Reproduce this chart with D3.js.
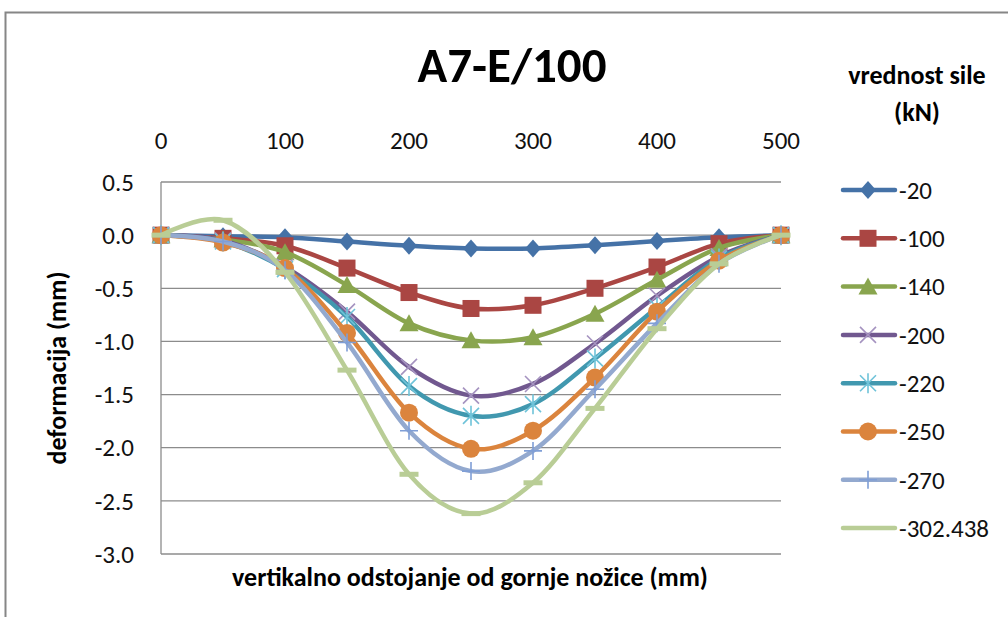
<!DOCTYPE html>
<html>
<head>
<meta charset="utf-8">
<script src="https://cdn.jsdelivr.net/npm/d3@7"></script>
<style>
  body { margin: 0; background: #fff; }
  svg { display: block; font-family: Carlito, Calibri, Lato, sans-serif; }
</style>
</head>
<body>
<div id="chart"></div>
<script>
// data
var positions = [0, 50, 100, 150, 200, 250, 300, 350, 400, 450, 500];
var forces = ["-20", "-100", "-140", "-200", "-220", "-250", "-270", "-302.438"];
var s20  = [0, -0.01, -0.02, -0.06, -0.10, -0.125, -0.125, -0.095, -0.055, -0.02, 0];
var s100 = [0, -0.03, -0.10, -0.31, -0.54, -0.69, -0.66, -0.50, -0.30, -0.08, 0];
var s140 = [0, -0.04, -0.16, -0.47, -0.83, -0.99, -0.96, -0.74, -0.42, -0.12, 0];
var s200 = [0, -0.05, -0.30, -0.72, -1.24, -1.51, -1.40, -1.02, -0.57, -0.20, 0];
var s220 = [0, -0.06, -0.32, -0.77, -1.42, -1.70, -1.59, -1.16, -0.68, -0.22, 0];
var s250 = [0, -0.07, -0.31, -0.92, -1.67, -2.01, -1.84, -1.34, -0.72, -0.24, 0];
var s270 = [0, -0.06, -0.33, -1.01, -1.84, -2.22, -2.03, -1.45, -0.83, -0.27, 0];
var s302 = [0, 0.14, -0.35, -1.27, -2.25, -2.62, -2.33, -1.63, -0.88, -0.27, 0];
var seriesValues = [s20, s100, s140, s200, s220, s250, s270, s302];
var xTicks = [0, 100, 200, 300, 400, 500];
var yTicks = [0.5, 0.0, -0.5, -1.0, -1.5, -2.0, -2.5, -3.0];

var colors = ["#4572A7", "#AA4643", "#89A54E", "#71588F", "#4198AF", "#DB843D", "#93A9CF", "#B9CD96"];
var markerColors = ["#4572A7", "#AA4643", "#89A54E", "#A593C0", "#6FC3D9", "#DB843D", "#7F9ED6", "#B9CD96"];
var markers = ["diamond", "square", "triangle", "x", "star", "circle", "plus", "dash"];

var width = 1008, height = 617;
var svg = d3.select("#chart").append("svg")
    .attr("width", width)
    .attr("height", height);

var fmt = d3.formatLocale({decimal: ".", thousands: ",", grouping: [3], currency: ["", ""], minus: "-"}).format(".1f");

// outer chart border (cropped at right/bottom)
svg.append("rect")
    .attr("x", 5.5).attr("y", 12.5)
    .attr("width", 1020).attr("height", 640)
    .attr("fill", "none")
    .attr("stroke", "#868686")
    .attr("stroke-width", 2);

var x = d3.scaleLinear().domain([0, 500]).range([161, 781]);
var y = d3.scaleLinear().domain([0.5, -3.0]).range([182, 554]);

// gridlines
svg.append("g").selectAll("line")
    .data(yTicks)
    .enter().append("line")
    .attr("x1", x(0)).attr("x2", x(500))
    .attr("y1", function(d) { return y(d); })
    .attr("y2", function(d) { return y(d); })
    .attr("stroke", "#8c8c8c")
    .attr("stroke-width", 1.3);

// left axis line
svg.append("line")
    .attr("x1", x(0)).attr("x2", x(0))
    .attr("y1", y(0.5)).attr("y2", y(-3.0))
    .attr("stroke", "#8c8c8c")
    .attr("stroke-width", 1.3);

// y tick labels
svg.append("g").selectAll("text")
    .data(yTicks)
    .enter().append("text")
    .attr("x", 134)
    .attr("y", function(d) { return y(d); })
    .attr("dy", "0.35em")
    .attr("text-anchor", "end")
    .attr("font-size", 25)
    .attr("fill", "#111")
    .text(function(d) { return fmt(d); });

// x tick labels (on top)
svg.append("g").selectAll("text")
    .data(xTicks)
    .enter().append("text")
    .attr("x", function(d) { return x(d); })
    .attr("y", 140)
    .attr("dy", "0.35em")
    .attr("text-anchor", "middle")
    .attr("font-size", 25)
    .attr("fill", "#111")
    .text(function(d) { return d; });

// titles
svg.append("text")
    .attr("x", 512).attr("y", 82)
    .attr("text-anchor", "middle")
    .attr("font-size", 49)
    .attr("font-weight", "bold")
    .text("A7-E/100");

svg.append("text")
    .attr("x", 470).attr("y", 586)
    .attr("text-anchor", "middle")
    .attr("font-size", 26)
    .attr("font-weight", "bold")
    .text("vertikalno odstojanje  od gornje nožice (mm)");

svg.append("text")
    .attr("transform", "translate(66," + y(-1.25) + ") rotate(-90)")
    .attr("text-anchor", "middle")
    .attr("font-size", 26)
    .attr("font-weight", "bold")
    .text("deformacija (mm)");

svg.append("text")
    .attr("x", 917).attr("y", 84)
    .attr("text-anchor", "middle")
    .attr("font-size", 26)
    .attr("font-weight", "bold")
    .text("vrednost sile");
svg.append("text")
    .attr("x", 917).attr("y", 121)
    .attr("text-anchor", "middle")
    .attr("font-size", 26)
    .attr("font-weight", "bold")
    .text("(kN)");

// marker drawing
function drawMarker(g, type, color) {
    if (type == "diamond") {
        g.append("path").attr("d", "M0,-9L8,0L0,9L-8,0Z").attr("fill", color);
    } else if (type == "square") {
        g.append("rect").attr("x", -8.5).attr("y", -8.5).attr("width", 17).attr("height", 17).attr("fill", color);
    } else if (type == "triangle") {
        g.append("path").attr("d", "M0,-9L9.5,8L-9.5,8Z").attr("fill", color);
    } else if (type == "circle") {
        g.append("circle").attr("r", 9).attr("fill", color);
    } else if (type == "x") {
        g.append("path").attr("d", "M-8,-8L8,8M-8,8L8,-8").attr("stroke", color).attr("stroke-width", 1.6).attr("fill", "none");
    } else if (type == "star") {
        g.append("path").attr("d", "M-8,-8L8,8M-8,8L8,-8M0,-10L0,10").attr("stroke", color).attr("stroke-width", 1.6).attr("fill", "none");
    } else if (type == "plus") {
        g.append("path").attr("d", "M-9,0L9,0M0,-9L0,9").attr("stroke", color).attr("stroke-width", 1.6).attr("fill", "none");
    } else if (type == "dash") {
        g.append("rect").attr("x", -9.5).attr("y", -2.5).attr("width", 19).attr("height", 5).attr("fill", color);
    }
}

var line = d3.line()
    .x(function(d, i) { return x(positions[i]); })
    .y(function(d) { return y(d); })
    .curve(d3.curveCardinal.tension(0));

seriesValues.forEach(function(vals, k) {
    var g = svg.append("g");
    g.append("path")
        .datum(vals)
        .attr("d", line)
        .attr("fill", "none")
        .attr("stroke", colors[k])
        .attr("stroke-width", 4.5)
        .attr("stroke-linejoin", "round");
    g.selectAll("g.m")
        .data(vals)
        .enter().append("g")
        .attr("class", "m")
        .attr("transform", function(d, i) { return "translate(" + x(positions[i]) + "," + y(d) + ")"; })
        .each(function() { drawMarker(d3.select(this), markers[k], markerColors[k]); });
});

// legend
var legend = svg.append("g");
forces.forEach(function(f, k) {
    var ly = 190 + k * 48.3;
    var item = legend.append("g").attr("transform", "translate(0," + ly + ")");
    item.append("line")
        .attr("x1", 843).attr("x2", 895)
        .attr("stroke", colors[k])
        .attr("stroke-width", 4.5)
        .attr("stroke-linecap", "round");
    if (markers[k] != "dash") {
        drawMarker(item.append("g").attr("transform", "translate(868,0)"), markers[k], markerColors[k]);
    }
    item.append("text")
        .attr("x", 899)
        .attr("dy", "0.35em")
        .attr("font-size", 25)
        .attr("fill", "#111")
        .text(f);
});
</script>
</body>
</html>
